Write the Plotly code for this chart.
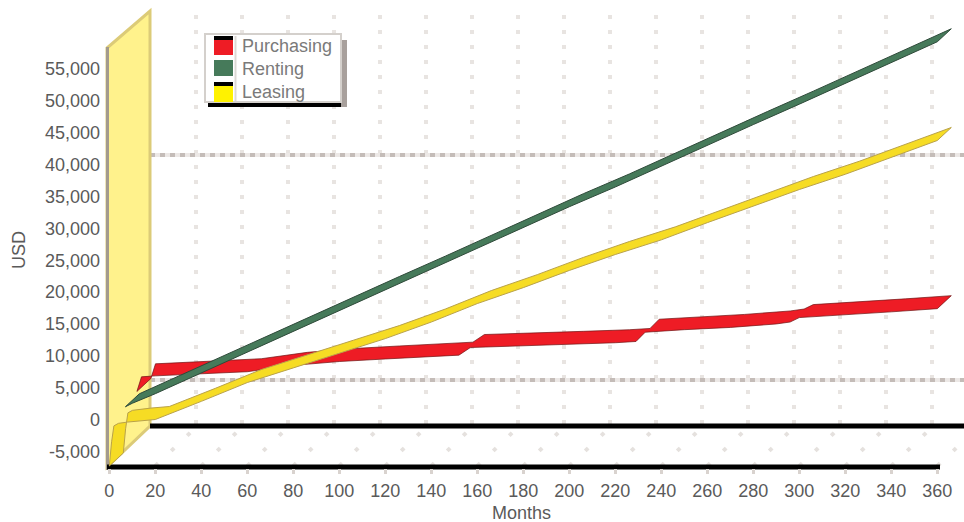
import plotly.graph_objects as go

# ---------------- data ----------------
MONTH_TICKS = list(range(0, 361, 20))
MONTH_LABELS = [str(m) for m in MONTH_TICKS]
VALUE_TICKS = list(range(-5000, 55001, 5000))
VALUE_LABELS = [f"{v:,}" for v in VALUE_TICKS]

SERIES_NAMES = ["Purchasing", "Renting", "Leasing"]

purchase_months = [12, 14, 20, 40, 60, 80, 100, 120, 140, 152, 157, 180, 200,
                   220, 229, 233, 250, 270, 290, 296, 300, 320, 340, 360]
purchase_cost = [4400, 6700, 6850, 7200, 7500, 8500, 9100, 9500, 9900, 10100,
                 11300, 11550, 11800, 12050, 12250, 13700, 14100, 14450, 15000,
                 15300, 16000, 16400, 16900, 17400]

rent_months = [7, 10, 20, 40, 60, 80, 100, 120, 140, 160, 180, 200, 220, 240,
               260, 280, 300, 320, 340, 360]
rent_cost = [2000, 2550, 4050, 7300, 10600, 13900, 17150, 20400, 23600, 26800,
             30100, 33400, 36500, 39800, 43000, 46300, 49500, 52800, 56000, 59300]

lease_months = [0, 1, 2, 4, 8, 12, 20, 40, 60, 80, 100, 120, 140, 160,
                180, 200, 220, 240, 260, 280, 300, 320, 340, 360]
lease_cost = [-7300, -3500, -1000, -600, -400, -250, 0, 2850, 5800,
              8100, 10400, 12700, 15300, 18200, 20700, 23400, 25900, 28200,
              30900, 33500, 36100, 38500, 41100, 43800]

# ---------------- geometry ----------------
W, H = 964, 522
M_L, M_R, M_T, M_B = 104, 0, 0, 48
PLOT_W = W - M_L - M_R
PLOT_H = H - M_T - M_B
PLOT_BOTTOM = H - M_B

X0_PX, X_PER_MONTH = 109.3, 2.3          # month 0 position, pixels per month
Y0_PX, Y_PER_UNIT = 419.5, 31.85 / 5000  # value 0 position, pixels per unit

x_range = [(M_L - X0_PX) / X_PER_MONTH, (W - M_R - X0_PX) / X_PER_MONTH]
y_range = [(Y0_PX - PLOT_BOTTOM) / Y_PER_UNIT, (Y0_PX - M_T) / Y_PER_UNIT]

# depth of each line ribbon (screen offset of the back edge)
DEPTH_DX = 14 / X_PER_MONTH
DEPTH_DY = 13 / Y_PER_UNIT


def px(x):
    return (x - M_L) / PLOT_W


def py(y):
    return (PLOT_BOTTOM - y) / PLOT_H


def ribbon(months, values):
    """Closed outline of a flat ribbon: front edge, then the back edge reversed."""
    fx = list(months)
    fy = list(values)
    bx = [m + DEPTH_DX for m in months][::-1]
    by = [v + DEPTH_DY for v in values][::-1]
    return fx + bx + [fx[0]], fy + by + [fy[0]]


FONT = "Liberation Sans, Arial, sans-serif"
RED, GREEN, YELLOW = "#ee1c25", "#467a5a", "#f6dc24"

fig = go.Figure()

series = [
    (SERIES_NAMES[0], purchase_months, purchase_cost, RED, "rgba(110,20,20,0.7)"),
    (SERIES_NAMES[2], lease_months, lease_cost, YELLOW, "#b9a24a"),
    (SERIES_NAMES[1], rent_months, rent_cost, GREEN, "#2f4a3a"),
]
for name, mx, vy, fill, edge in series:
    rx, ry = ribbon(mx, vy)
    fig.add_trace(go.Scatter(
        x=rx, y=ry, mode="lines", fill="toself", fillcolor=fill,
        line=dict(color=edge, width=1), name=name, showlegend=False,
        hoverinfo="skip",
    ))

shapes = []


def line(x0, y0, x1, y1, color, width, dash=None, layer="below"):
    d = dict(type="line", xref="paper", yref="paper",
             x0=px(x0), y0=py(y0), x1=px(x1), y1=py(y1), layer=layer,
             line=dict(color=color, width=width))
    if dash:
        d["line"]["dash"] = dash
    shapes.append(d)


def rect(x0, y0, x1, y1, fill, edge=None, width=0, layer="below"):
    shapes.append(dict(type="rect", xref="paper", yref="paper",
                       x0=px(x0), y0=py(y0), x1=px(x1), y1=py(y1), layer=layer,
                       fillcolor=fill,
                       line=dict(color=edge or fill, width=width)))


# back wall: dotted vertical gridlines
for k in range(1, 18):
    xg = 150 + 46 * k
    line(xg, 15, xg, 424, "#e8e4e1", 4, "4px,11px")

# floor: dotted depth lines from the front ticks to the back wall
for k in range(1, 19):
    xf = X0_PX + 46 * k
    line(xf, 466, xf + 41, 427, "#e5e1de", 4, "4px,18px")

# back wall: two dotted horizontal gridlines
for yg in (155, 380):
    line(150, yg, W, yg, "#ece8e6", 4)
    line(150, yg, W, yg, "#c4bcb8", 4, "5px,5px")

# left side wall
shapes.append(dict(
    type="path", xref="paper", yref="paper", layer="below",
    path=(f"M {px(107)},{py(467)} L {px(107)},{py(48)} L {px(150)},{py(11)} "
          f"L {px(150)},{py(426)} Z"),
    fillcolor="#fff28c", line=dict(color="#dccb78", width=3),
))
line(107.5, 47, 107.5, 470, "#a39a8e", 3)

# floor edges
line(150, 426, W, 426, "#000000", 5)
line(107, 467, 940, 467, "#000000", 5)

# legend box
rect(210, 40, 347, 107, "#a8a09c", layer="above")
rect(208, 102, 341, 107, "#000000", layer="above")
rect(205, 34, 341, 102, "#ffffff", "#d4d0cc", 2, layer="above")
line(235.5, 36, 235.5, 101, "#dcd8d4", 2, layer="above")
rect(214, 38, 233, 55, RED, layer="above")
rect(214, 36, 233, 40, "#000000", layer="above")
rect(214, 60, 233, 76, GREEN, layer="above")
rect(214, 84, 233, 102, "#fff200", layer="above")
rect(214, 82, 233, 86, "#000000", layer="above")

annotations = []
for name, yc in zip(SERIES_NAMES, (46, 69, 92)):
    annotations.append(dict(
        text=name, xref="paper", yref="paper", x=px(240), y=py(yc),
        xanchor="left", yanchor="middle", showarrow=False,
        font=dict(family=FONT, size=18, color="#7a7a7a"),
    ))

# axis titles
annotations.append(dict(
    text="Months", xref="paper", yref="paper", x=px(521), y=py(513),
    xanchor="center", yanchor="middle", showarrow=False,
    font=dict(family=FONT, size=18, color="#5a5a5a"),
))
annotations.append(dict(
    text="USD", xref="paper", yref="paper", x=px(19), y=py(250),
    xanchor="center", yanchor="middle", showarrow=False, textangle=-90,
    font=dict(family=FONT, size=18, color="#5a5a5a"),
))

fig.update_layout(
    width=W, height=H, autosize=False,
    margin=dict(l=M_L, r=M_R, t=M_T, b=M_B, pad=0),
    paper_bgcolor="#ffffff", plot_bgcolor="#ffffff",
    shapes=shapes, annotations=annotations, showlegend=False,
    xaxis=dict(
        range=x_range, tickvals=MONTH_TICKS, ticktext=MONTH_LABELS,
        showgrid=False, zeroline=False, showline=False,
        ticks="inside", ticklen=5, tickwidth=3, tickcolor="#d9d3cf",
        tickfont=dict(family=FONT, size=18, color="#5a5a5a"),
        ticklabelstandoff=4, fixedrange=True,
    ),
    yaxis=dict(
        range=y_range, tickvals=VALUE_TICKS, ticktext=VALUE_LABELS,
        showgrid=False, zeroline=False, showline=False, ticks="",
        tickfont=dict(family=FONT, size=18, color="#5a5a5a"),
        ticklabelstandoff=3, fixedrange=True,
    ),
)

fig.write_html("out.html")
